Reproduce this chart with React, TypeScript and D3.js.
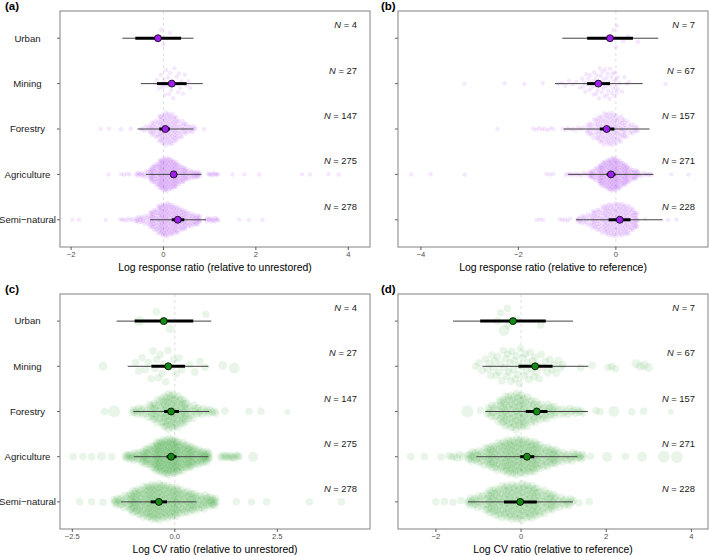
import React from "react";
import * as d3 from "d3";

const categories = ["Urban", "Mining", "Forestry", "Agriculture", "Semi−natural"];

const countsA = [4, 27, 147, 275, 278];
const countsB = [7, 67, 157, 271, 228];
const countsC = [4, 27, 147, 275, 278];
const countsD = [7, 67, 157, 271, 228];

// mean, 50% interval (thick), 95% interval (thin)
const meanA = [-0.12, 0.18, 0.04, 0.22, 0.31];
const innerA = [[-0.61, 0.38], [-0.14, 0.5], [-0.09, 0.14], [0.18, 0.29], [0.18, 0.45]];
const outerA = [[-0.89, 0.65], [-0.49, 0.85], [-0.56, 0.65], [-0.38, 0.82], [-0.29, 0.92]];

const meanB = [-0.12, -0.36, -0.19, -0.1, 0.08];
const innerB = [[-0.59, 0.35], [-0.59, -0.12], [-0.33, -0.03], [-0.19, -0.01], [-0.15, 0.3]];
const outerB = [[-1.1, 0.87], [-1.25, 0.55], [-1.07, 0.69], [-0.98, 0.77], [-0.82, 0.96]];

const meanC = [-0.27, -0.16, -0.09, -0.09, -0.39];
const innerC = [[-0.98, 0.45], [-0.57, 0.25], [-0.26, 0.1], [-0.2, 0.04], [-0.59, -0.19]];
const outerC = [[-1.42, 0.89], [-1.15, 0.82], [-1.01, 0.84], [-1.0, 0.82], [-1.31, 0.53]];

const meanD = [-0.19, 0.33, 0.37, 0.14, -0.02];
const innerD = [[-0.96, 0.58], [-0.06, 0.74], [0.11, 0.62], [-0.02, 0.31], [-0.4, 0.37]];
const outerD = [[-1.6, 1.22], [-0.91, 1.58], [-0.84, 1.57], [-1.05, 1.32], [-1.25, 1.22]];

// raw observations, read as histogram pieces: [from, to, count, (radius)]
const rawA = [
  [[-0.07, -0.07, 1], [0, 0, 1], [-0.05, -0.05, 1], [0.14, 0.14, 1]],
  [[-0.2, 0, 5], [0, 0.2, 9], [0.2, 0.4, 8], [0.4, 0.6, 5]],
  [[-1.36, -1.36, 1], [-1.18, -1.18, 1], [-0.92, -0.92, 1], [-0.71, -0.71, 1], [-0.5, -0.3, 6], [-0.3, -0.1, 20], [-0.1, 0.1, 45], [0.1, 0.3, 41], [0.3, 0.5, 20], [0.5, 0.7, 10], [0.88, 0.88, 1]],
  [[-1.19, -1.19, 1], [-0.95, -0.7, 4], [-0.6, -0.3, 14], [-0.3, -0.1, 40], [-0.1, 0.1, 75], [0.1, 0.3, 65], [0.3, 0.5, 35], [0.5, 0.8, 25], [0.95, 1.2, 9], [1.49, 1.49, 1], [1.75, 1.75, 1], [2.07, 2.07, 1], [3.0, 3.0, 1], [3.17, 3.17, 1], [3.57, 3.57, 1], [3.79, 3.79, 1]],
  [[-1.97, -1.97, 1], [-1.83, -1.83, 1], [-1.25, -1.25, 1], [-0.96, -0.6, 8], [-0.6, -0.3, 18], [-0.3, -0.1, 38], [-0.1, 0.1, 65], [0.1, 0.3, 55], [0.3, 0.5, 40], [0.5, 0.8, 34], [0.9, 1.2, 14], [1.64, 1.64, 1], [1.85, 1.85, 1], [2.14, 2.14, 1]],
];

const rawB = [
  [[-0.1, -0.1, 1], [0.15, 0.15, 1], [0.45, 0.45, 1], [0.0, 0.0, 1], [0.02, 0.02, 1], [-0.05, -0.05, 1], [0.25, 0.25, 1]],
  [[-3.11, -3.11, 1], [-2.28, -2.28, 1], [-1.88, -1.88, 1], [-1.5, -1.5, 1], [-1.22, -0.7, 7], [-0.7, -0.45, 12], [-0.45, -0.2, 18], [-0.2, 0.05, 20], [0.05, 0.3, 5], [1.02, 1.02, 1]],
  [[-2.43, -2.43, 1], [-1.73, -1.25, 8], [-1.12, -0.64, 9], [-0.6, -0.4, 18], [-0.4, -0.2, 35], [-0.2, 0, 40], [0, 0.2, 30], [0.2, 0.46, 16]],
  [[-4.2, -4.2, 1], [-3.8, -3.8, 1], [-3.1, -3.1, 1], [-1.46, -1.25, 3], [-1.05, -0.57, 12], [-0.55, -0.35, 22], [-0.35, -0.15, 60], [-0.15, 0.05, 80], [0.05, 0.25, 55], [0.25, 0.46, 25], [0.46, 0.75, 9], [1.14, 1.14, 1], [1.49, 1.49, 1]],
  [[-1.66, -1.46, 3], [-1.18, -0.91, 5], [-0.8, -0.5, 20], [-0.5, -0.25, 40], [-0.25, 0, 60], [0, 0.25, 60], [0.25, 0.45, 37], [0.6, 0.6, 1], [1.07, 1.07, 1], [1.24, 1.24, 1]],
];

const rawC = [
  [[-0.12, -0.12, 1, 4.5], [-0.87, -0.87, 1, 5], [-0.45, -0.45, 1], [0.76, 0.76, 1]],
  [[-1.75, -1.75, 1, 4.5], [-1.0, -0.6, 5], [-0.6, -0.2, 9], [-0.2, 0.2, 6], [0.3, 0.8, 4], [1.17, 1.17, 1, 4.5], [1.45, 1.45, 1, 5.5]],
  [[-1.71, -1.71, 1], [-1.48, -1.48, 1, 6], [-1.06, -0.6, 14], [-0.6, -0.3, 25], [-0.3, 0, 45], [0, 0.3, 35], [0.3, 0.6, 12], [0.6, 1.02, 10], [1.22, 1.22, 1], [1.81, 1.81, 1], [2.1, 2.1, 1], [2.75, 2.75, 1, 3]],
  [[-2.48, -2.48, 1], [-2.24, -2.24, 1], [-2.03, -2.03, 1], [-1.79, -1.79, 1, 4.5], [-1.54, -1.54, 1], [-1.22, -0.8, 18], [-0.8, -0.5, 30], [-0.5, -0.2, 60], [-0.2, 0.1, 65], [0.1, 0.45, 50], [0.45, 0.85, 33], [1.1, 1.59, 13], [1.91, 1.91, 1, 5]],
  [[-2.32, -2.32, 1], [-2.03, -2.03, 1], [-1.75, -1.75, 1], [-1.5, -1.1, 18], [-1.1, -0.7, 50], [-0.7, -0.3, 70], [-0.3, 0.1, 60], [0.1, 0.5, 40], [0.5, 1.02, 32], [1.5, 1.5, 1], [1.87, 1.87, 1], [2.24, 2.24, 1], [3.28, 3.28, 1], [4.06, 4.06, 1]],
];

const rawD = [
  [[-0.4, -0.4, 1, 5.5], [-0.55, -0.55, 1], [-0.3, -0.3, 1], [0.46, 0.46, 1], [-0.48, -0.48, 1], [-0.32, -0.32, 1], [-0.1, -0.1, 1]],
  [[-1.1, -0.8, 4], [-0.8, -0.4, 12], [-0.4, 0, 16], [0, 0.4, 14], [0.4, 1.0, 12], [1.4, 1.4, 1], [1.67, 1.67, 1], [2.0, 2.26, 3], [2.65, 3.04, 4, 4.5]],
  [[-1.26, -1.26, 1, 6], [-0.95, -0.95, 1], [-0.8, -0.5, 14], [-0.5, -0.2, 35], [-0.2, 0.1, 40], [0.1, 0.4, 25], [0.4, 0.8, 20], [0.8, 1.48, 15], [1.71, 1.9, 2], [2.18, 2.18, 1, 5.5], [2.6, 2.6, 1], [2.88, 2.88, 1], [3.52, 3.52, 1, 3]],
  [[-2.59, -2.59, 1], [-2.27, -2.27, 1], [-1.88, -1.88, 1], [-1.73, -1.34, 6], [-1.26, -0.8, 25], [-0.8, -0.4, 45], [-0.4, 0, 65], [0, 0.4, 60], [0.4, 0.85, 38], [0.85, 1.48, 23], [1.63, 1.63, 1], [2.02, 2.02, 1, 5], [2.45, 2.45, 1], [2.84, 2.84, 1, 5], [3.35, 3.35, 1, 6], [3.66, 3.66, 1, 6]],
  [[-2.0, -2.0, 1], [-1.8, -1.8, 1], [-1.6, -1.6, 1], [-1.41, -1.41, 1], [-1.26, -0.8, 20], [-0.8, -0.4, 45], [-0.4, 0, 55], [0, 0.4, 55], [0.4, 0.8, 32], [0.8, 1.24, 15], [1.36, 1.36, 1], [1.6, 1.6, 1]],
];

const ticksA = [-2, 0, 2, 4];
const ticksB = [-4, -2, 0];
const ticksC = [-2.5, 0, 2.5];
const ticksD = [-2, 0, 2, 4];
const tickLabelsA = ["−2", "0", "2", "4"];
const tickLabelsB = ["−4", "−2", "0"];
const tickLabelsC = ["−2.5", "0.0", "2.5"];
const tickLabelsD = ["−2", "0", "2", "4"];

const titleA = "Log response ratio (relative to unrestored)";
const titleB = "Log response ratio (relative to reference)";
const titleC = "Log CV ratio (relative to unrestored)";
const titleD = "Log CV ratio (relative to reference)";

const FONT = "'Liberation Sans', Arial, Helvetica, sans-serif";

function vdc(i: number) {
  let r = 0, f = 0.5;
  while (i > 0) { r += f * (i & 1); i >>= 1; f *= 0.5; }
  return r;
}

function layoutPoints(segs: number[][], halfW: number, defR: number) {
  const pts: { v: number; r: number; dy: number }[] = [];
  segs.forEach(([a, b, n, r]) => {
    for (let j = 0; j < n; j++) {
      const v = n === 1 ? a : a + ((j + 0.5) / n) * (b - a);
      pts.push({ v, r: r ?? defR, dy: 0 });
    }
  });
  const vals = pts.map((p) => p.v).sort((x, y) => x - y);
  const n = vals.length;
  const sd = d3.deviation(vals) || 0.2;
  const iqr = (d3.quantileSorted(vals, 0.75)! - d3.quantileSorted(vals, 0.25)!) / 1.34;
  let bw = 0.9 * Math.min(sd, iqr > 0 ? iqr : sd) * Math.pow(n, -0.2);
  if (!(bw > 0)) bw = 0.2;
  const dens = pts.map((p) => d3.sum(vals, (u) => Math.exp(-0.5 * ((p.v - u) / bw) ** 2)));
  const maxD = d3.max(dens) || 1;
  const order = d3.range(n).sort((i, j) => pts[i].v - pts[j].v);
  order.forEach((idx, k) => {
    const q = vdc(k + 1) * 2 - 1;
    pts[idx].dy = q * halfW * (dens[idx] / maxD);
  });
  return pts;
}

type PanelCfg = {
  label: string; x0: number; x1: number; y0: number; y1: number;
  domain: [number, number]; ticks: number[]; tickLabels: string[]; title: string;
  raw: number[][][]; counts: number[]; mean: number[]; inner: number[][]; outer: number[][];
  showCats: boolean; ptFill: string; meanFill: string; ptR: number; halfW: number;
};

function Panel({ p }: { p: PanelCfg }) {
  const x = d3.scaleLinear().domain(p.domain).range([p.x0, p.x1]);
  const y = d3.scalePoint<string>().domain(categories).range([p.y0, p.y1]).padding(0.6);
  const layouts = p.raw.map((segs) => layoutPoints(segs, p.halfW, p.ptR));
  return (
    <g>
      <text x={p.label === "(a)" || p.label === "(c)" ? 5 : 381} y={p.y0 - 1.5} fontSize={11.5} fontWeight="bold" fontFamily={FONT}>{p.label}</text>
      <line x1={x(0)} x2={x(0)} y1={p.y0} y2={p.y1} stroke="#d6d6d6" strokeWidth={0.8} strokeDasharray="3,3" />
      {layouts.map((pts, ci) =>
        pts.map((pt, k) => (
          <circle key={ci + "-" + k} cx={x(pt.v)} cy={y(categories[ci])! + pt.dy} r={pt.r} fill={p.ptFill} fillOpacity={0.1} />
        ))
      )}
      {categories.map((c, ci) => {
        const cy = y(c)!;
        return (
          <g key={c}>
            <line x1={x(p.outer[ci][0])} x2={x(p.outer[ci][1])} y1={cy} y2={cy} stroke="#444" strokeWidth={1} />
            <line x1={x(p.inner[ci][0])} x2={x(p.inner[ci][1])} y1={cy} y2={cy} stroke="#000" strokeWidth={3} />
            <circle cx={x(p.mean[ci])} cy={cy} r={3.5} fill={p.meanFill} stroke="#000" strokeWidth={0.8} />
            <text x={p.x1 - 13} y={cy - 10} textAnchor="end" fontSize={9.4} fontFamily={FONT} fill="#1a1a1a">
              <tspan fontStyle="italic">N</tspan>{" = " + p.counts[ci]}
            </text>
            <line x1={p.x0 - 3} x2={p.x0} y1={cy} y2={cy} stroke="#333" strokeWidth={0.8} />
            {p.showCats && (
              <text x={27.5} y={cy + 3.3} textAnchor="middle" fontSize={9.6} fontFamily={FONT} fill="#1a1a1a">{c}</text>
            )}
          </g>
        );
      })}
      <rect x={p.x0} y={p.y0} width={p.x1 - p.x0} height={p.y1 - p.y0} fill="none" stroke="#8c8c8c" strokeWidth={1.1} />
      {p.ticks.map((t, i) => (
        <g key={t}>
          <line x1={x(t)} x2={x(t)} y1={p.y1} y2={p.y1 + 3} stroke="#333" strokeWidth={0.8} />
          <text x={x(t)} y={p.y1 + 9.5} textAnchor="middle" fontSize={7.6} fontFamily={FONT} fill="#4d4d4d">{p.tickLabels[i]}</text>
        </g>
      ))}
      <text x={(p.x0 + p.x1) / 2} y={p.y1 + 24} textAnchor="middle" fontSize={10.4} fontFamily={FONT} fill="#000">{p.title}</text>
    </g>
  );
}

export default function App() {
  const purple = "#a020f0";
  const green = "#158a15";
  const panels: PanelCfg[] = [
    { label: "(a)", x0: 60, x1: 370, y0: 11, y1: 247, domain: [-2.24, 4.47], ticks: ticksA, tickLabels: tickLabelsA, title: titleA, raw: rawA, counts: countsA, mean: meanA, inner: innerA, outer: outerA, showCats: true, ptFill: purple, meanFill: purple, ptR: 2.2, halfW: 17 },
    { label: "(b)", x0: 398, x1: 708, y0: 11, y1: 247, domain: [-4.47, 1.89], ticks: ticksB, tickLabels: tickLabelsB, title: titleB, raw: rawB, counts: countsB, mean: meanB, inner: innerB, outer: outerB, showCats: false, ptFill: purple, meanFill: purple, ptR: 2.2, halfW: 17 },
    { label: "(c)", x0: 60, x1: 370, y0: 294, y1: 529, domain: [-2.8, 4.76], ticks: ticksC, tickLabels: tickLabelsC, title: titleC, raw: rawC, counts: countsC, mean: meanC, inner: innerC, outer: outerC, showCats: true, ptFill: "#2ca02c", meanFill: green, ptR: 3.8, halfW: 18.5 },
    { label: "(d)", x0: 398, x1: 708, y0: 294, y1: 529, domain: [-2.89, 4.39], ticks: ticksD, tickLabels: tickLabelsD, title: titleD, raw: rawD, counts: countsD, mean: meanD, inner: innerD, outer: outerD, showCats: false, ptFill: "#2ca02c", meanFill: green, ptR: 3.8, halfW: 18.5 },
  ];
  return (
    <div style={{ position: "absolute", left: 0, top: 0 }}>
      <svg width={709} height={556} style={{ display: "block", background: "#fff" }}>
        {panels.map((p) => <Panel key={p.label} p={p} />)}
      </svg>
    </div>
  );
}
